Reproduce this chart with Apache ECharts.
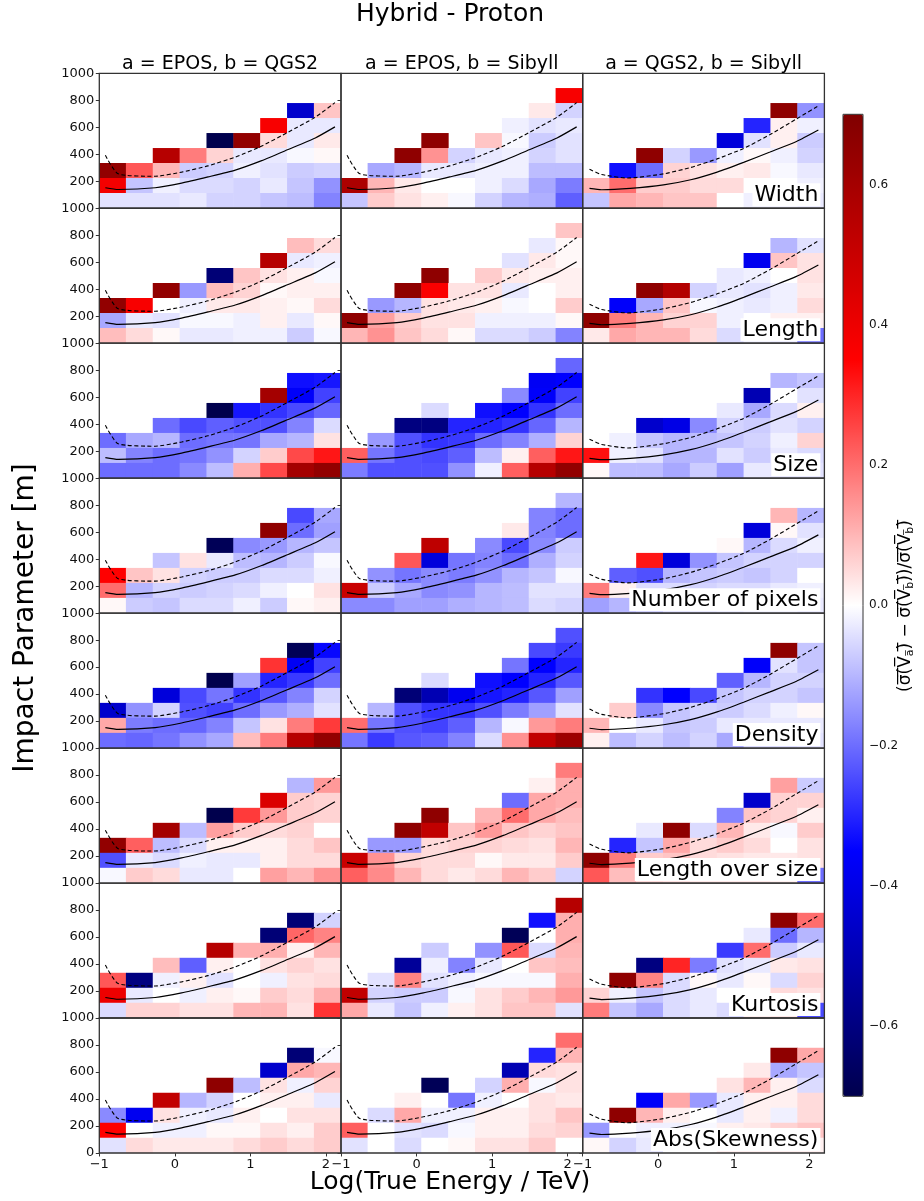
<!DOCTYPE html>
<html><head><meta charset="utf-8">
<script src="https://cdn.jsdelivr.net/npm/echarts@6/dist/echarts.min.js"></script>
<style>html,body{margin:0;padding:0;background:#fff}#c{width:924px;height:1201px}</style>
</head><body><div id="c"></div>
<script>
const n = null;
// ---- Tick labels / categories ----
const xCategories = ['0','1','2','3','4','5','6','7','8'];
const yCategories = ['0','1','2','3','4','5','6','7','8'];
const xTickValues = [-1, 0, 1, 2];
const colorbarTicks = [-0.6, -0.4, -0.2, 0.0, 0.2, 0.4, 0.6];
const columnTitles = ['a = EPOS, b = QGS2', 'a = EPOS, b = Sibyll', 'a = QGS2, b = Sibyll'];
const rowNames = ['Width','Length','Size','Number of pixels','Density','Length over size','Kurtosis','Abs(Skewness)'];

// ---- Reference curves (log10 E, impact [m]) ----
const eposSolid = [[-0.92,152],[-0.75,139],[-0.26,152],[0.09,186],[0.44,232],[0.80,283],[1.15,353],[1.50,435],[1.86,521],[2.12,603]];
const eposDashed = [[-0.92,392],[-0.75,255],[-0.26,237],[0.09,268],[0.44,314],[0.80,379],[1.15,461],[1.50,564],[1.86,675],[2.12,783]];
const qgs2Solid = [[-0.91,147],[-0.75,137],[-0.37,147],[0.07,173],[0.43,211],[0.78,268],[1.13,340],[1.48,417],[1.83,495],[2.12,580]];
const qgs2Dashed = [[-0.91,289],[-0.75,250],[-0.40,224],[0.07,255],[0.43,302],[0.78,366],[1.13,443],[1.48,546],[1.83,662],[2.12,758]];

// ---- Heatmap values: rows top (800-1000 m) to bottom (0-111 m), 9 energy bins each ----
// Column 1: a = EPOS, b = QGS2
const widthEposQgs2 = [
 [n,n,n,n,n,n,n,n,n],
 [n,n,n,n,n,n,n,n,n],
 [n,n,n,n,n,n,n,-0.45,0.08],
 [n,n,n,n,n,n,0.37,-0.03,-0.03],
 [n,n,n,n,-0.7,0.65,0.05,-0.03,0.03],
 [n,n,0.55,0.18,0.06,-0.03,-0.03,-0.01,0.01],
 [0.65,0.23,0.1,-0.07,-0.06,-0.02,-0.04,-0.07,-0.06],
 [0.38,-0.08,-0.02,-0.05,-0.05,-0.06,-0.03,-0.08,-0.15],
 [-0.04,-0.04,-0.04,-0.03,-0.06,-0.06,-0.08,-0.09,-0.17]];
const lengthEposQgs2 = [
 [n,n,n,n,n,n,n,n,n],
 [n,n,n,n,n,n,n,n,n],
 [n,n,n,n,n,n,n,0.09,0.05],
 [n,n,n,n,n,n,0.55,-0.03,-0.02],
 [n,n,n,n,-0.62,0.08,0.04,0.02,-0.01],
 [n,n,0.65,-0.14,0.09,0.06,0.01,0.02,0.02],
 [0.65,0.37,0.0,-0.02,0.03,0.03,0.02,0.01,0.05],
 [-0.12,-0.03,-0.04,-0.01,-0.01,-0.02,0.02,-0.03,0.01],
 [0.09,0.05,0.01,-0.03,-0.03,-0.02,-0.02,-0.07,-0.01]];
const sizeEposQgs2 = [
 [n,n,n,n,n,n,n,n,n],
 [n,n,n,n,n,n,n,n,n],
 [n,n,n,n,n,n,n,-0.33,-0.32],
 [n,n,n,n,n,n,0.6,-0.36,-0.26],
 [n,n,n,n,-0.7,-0.32,-0.28,-0.25,-0.21],
 [n,n,-0.2,-0.25,-0.22,-0.24,-0.24,-0.17,-0.05],
 [-0.2,-0.12,-0.1,-0.2,-0.19,-0.19,-0.12,-0.1,0.04],
 [-0.09,-0.17,-0.2,-0.19,-0.15,-0.06,0.07,0.25,0.32],
 [-0.2,-0.2,-0.2,-0.16,-0.09,0.11,0.25,0.6,0.65]];
const pixelsEposQgs2 = [
 [n,n,n,n,n,n,n,n,n],
 [n,n,n,n,n,n,n,n,n],
 [n,n,n,n,n,n,n,-0.25,-0.12],
 [n,n,n,n,n,n,0.66,-0.2,-0.13],
 [n,n,n,n,-0.68,-0.16,-0.14,-0.1,-0.08],
 [n,n,-0.08,0.04,-0.03,-0.09,-0.1,-0.07,-0.01],
 [0.35,0.08,0.04,-0.06,-0.07,-0.07,-0.05,-0.05,-0.02],
 [0.2,-0.1,-0.06,-0.07,-0.06,-0.05,-0.02,0.0,0.04],
 [0.01,-0.07,-0.08,-0.05,-0.05,-0.02,-0.07,0.01,0.02]];
const densityEposQgs2 = [
 [n,n,n,n,n,n,n,n,n],
 [n,n,n,n,n,n,n,n,n],
 [n,n,n,n,n,n,n,-0.68,-0.34],
 [n,n,n,n,n,n,0.28,-0.37,-0.26],
 [n,n,n,n,-0.7,-0.13,-0.3,-0.27,-0.2],
 [n,n,-0.42,-0.25,-0.19,-0.28,-0.23,-0.17,-0.06],
 [-0.45,-0.15,-0.06,-0.24,-0.26,-0.2,-0.14,-0.11,-0.04],
 [0.12,-0.18,-0.2,-0.21,-0.17,-0.08,0.04,0.18,0.27],
 [-0.2,-0.21,-0.19,-0.15,-0.12,0.09,0.18,0.55,0.65]];
const losEposQgs2 = [
 [n,n,n,n,n,n,n,n,n],
 [n,n,n,n,n,n,n,n,n],
 [n,n,n,n,n,n,n,-0.1,0.14],
 [n,n,n,n,n,n,0.45,0.07,0.06],
 [n,n,n,n,-0.7,0.27,0.14,0.07,0.06],
 [n,n,0.6,-0.09,0.13,0.07,0.05,0.06,0.0],
 [0.65,0.22,-0.09,-0.05,0.02,0.02,0.02,0.05,0.08],
 [-0.24,-0.03,-0.05,-0.02,-0.03,-0.03,0.02,0.05,0.05],
 [-0.01,0.07,0.05,-0.03,-0.03,0.0,0.13,0.1,0.15]];
const kurtEposQgs2 = [
 [n,n,n,n,n,n,n,n,n],
 [n,n,n,n,n,n,n,n,n],
 [n,n,n,n,n,n,n,-0.62,-0.06],
 [n,n,n,n,n,n,-0.62,0.21,0.17],
 [n,n,n,n,0.55,0.11,0.11,0.02,0.1],
 [n,n,0.09,-0.22,0.02,0.0,0.04,0.06,0.04],
 [0.23,-0.6,-0.02,0.02,-0.04,0.0,-0.02,0.04,0.05],
 [0.4,-0.03,0.0,-0.02,0.02,0.01,0.07,0.05,0.11],
 [-0.05,0.06,0.06,0.04,0.04,0.1,0.1,0.04,0.28]];
const skewEposQgs2 = [
 [n,n,n,n,n,n,n,n,n],
 [n,n,n,n,n,n,n,n,n],
 [n,n,n,n,n,n,n,-0.62,-0.01],
 [n,n,n,n,n,n,-0.45,0.12,0.1],
 [n,n,n,n,0.66,-0.09,0.04,-0.02,0.06],
 [n,n,0.52,-0.1,-0.06,0.0,0.02,0.02,-0.03],
 [-0.16,-0.38,0.04,-0.02,-0.03,0.02,0.0,0.04,0.04],
 [0.35,0.0,-0.02,-0.02,0.01,0.01,0.04,0.02,0.07],
 [-0.04,0.05,0.03,0.03,0.03,0.05,0.07,0.05,0.07]];

// Column 2: a = EPOS, b = Sibyll
const widthEposSibyll = [
 [n,n,n,n,n,n,n,n,n],
 [n,n,n,n,n,n,n,n,0.37],
 [n,n,n,n,n,n,n,0.03,-0.06],
 [n,n,n,n,n,n,-0.02,-0.04,-0.03],
 [n,n,n,0.66,n,0.08,-0.01,-0.07,-0.04],
 [n,n,0.66,0.15,-0.06,-0.03,-0.02,-0.06,-0.04],
 [n,-0.12,-0.1,-0.03,-0.03,-0.02,-0.02,-0.09,-0.09],
 [0.58,0.1,0.03,0.0,0.0,-0.02,-0.05,-0.12,-0.18],
 [-0.08,0.07,0.04,0.02,-0.01,-0.06,-0.1,-0.11,-0.22]];
const lengthEposSibyll = [
 [n,n,n,n,n,n,n,n,n],
 [n,n,n,n,n,n,n,n,0.08],
 [n,n,n,n,n,n,n,-0.03,0.01],
 [n,n,n,n,n,n,-0.04,0.03,0.01],
 [n,n,n,0.66,n,0.07,0.03,0.02,0.02],
 [n,n,0.66,0.36,0.04,0.04,-0.03,0.0,0.02],
 [n,-0.14,-0.1,0.04,0.03,0.02,-0.01,0.0,0.07],
 [0.66,0.13,0.07,0.04,0.04,-0.02,-0.02,-0.02,0.01],
 [0.1,0.15,0.08,0.05,0.01,-0.05,-0.05,-0.07,-0.17]];
const sizeEposSibyll = [
 [n,n,n,n,n,n,n,n,n],
 [n,n,n,n,n,n,n,n,-0.21],
 [n,n,n,n,n,n,n,-0.37,-0.35],
 [n,n,n,n,n,n,-0.16,-0.36,-0.26],
 [n,n,n,-0.05,n,-0.33,-0.35,-0.28,-0.2],
 [n,n,-0.6,-0.6,-0.3,-0.3,-0.28,-0.21,-0.1],
 [n,-0.14,-0.24,-0.28,-0.27,-0.2,-0.17,-0.11,0.06],
 [0.22,-0.19,-0.24,-0.25,-0.22,-0.09,0.02,0.22,0.32],
 [-0.18,-0.24,-0.24,-0.24,-0.15,-0.02,0.22,0.55,0.65]];
const pixelsEposSibyll = [
 [n,n,n,n,n,n,n,n,n],
 [n,n,n,n,n,n,n,n,-0.1],
 [n,n,n,n,n,n,n,-0.17,-0.2],
 [n,n,n,n,n,n,0.03,-0.17,-0.2],
 [n,n,n,0.53,n,-0.16,-0.25,-0.16,-0.07],
 [n,n,0.23,-0.42,-0.19,-0.17,-0.2,-0.11,-0.06],
 [n,-0.15,-0.19,-0.16,-0.18,-0.15,-0.1,-0.08,-0.01],
 [0.5,-0.07,-0.12,-0.16,-0.15,-0.1,-0.09,-0.04,-0.04],
 [-0.16,-0.16,-0.13,-0.13,-0.11,-0.1,-0.09,-0.05,-0.06]];
const densityEposSibyll = [
 [n,n,n,n,n,n,n,n,n],
 [n,n,n,n,n,n,n,n,-0.24],
 [n,n,n,n,n,n,n,-0.25,-0.27],
 [n,n,n,n,n,n,-0.19,-0.35,-0.3],
 [n,n,n,-0.05,n,-0.33,-0.35,-0.3,-0.23],
 [n,n,-0.62,-0.5,-0.38,-0.32,-0.3,-0.23,-0.13],
 [n,-0.1,-0.24,-0.28,-0.28,-0.24,-0.18,-0.13,-0.04],
 [0.2,-0.19,-0.24,-0.26,-0.22,-0.1,-0.01,0.14,0.18],
 [-0.19,-0.27,-0.23,-0.22,-0.17,-0.05,0.15,0.52,0.62]];
const losEposSibyll = [
 [n,n,n,n,n,n,n,n,n],
 [n,n,n,n,n,n,n,n,0.18],
 [n,n,n,n,n,n,n,0.02,0.11],
 [n,n,n,n,n,n,-0.2,0.12,0.11],
 [n,n,n,0.66,n,0.1,0.2,0.12,0.09],
 [n,n,0.66,0.52,0.08,0.14,0.08,0.06,0.08],
 [n,-0.14,-0.14,0.05,0.06,0.06,0.05,0.04,0.1],
 [0.5,0.15,0.06,0.05,0.05,0.01,0.03,0.03,0.07],
 [0.22,0.16,0.1,0.05,0.03,0.05,0.1,0.07,-0.06]];
const kurtEposSibyll = [
 [n,n,n,n,n,n,n,n,n],
 [n,n,n,n,n,n,n,n,0.55],
 [n,n,n,n,n,n,n,-0.33,0.11],
 [n,n,n,n,n,n,-0.68,0.0,0.11],
 [n,n,n,-0.07,n,-0.15,0.23,-0.05,0.1],
 [n,n,-0.55,-0.02,-0.17,-0.03,0.0,0.08,0.09],
 [n,-0.04,0.17,-0.04,-0.02,-0.01,-0.01,-0.01,0.11],
 [0.52,-0.06,-0.07,-0.07,-0.01,0.04,0.07,0.1,0.14],
 [0.12,-0.03,-0.08,-0.02,0.02,0.04,0.08,0.08,-0.04]];
const skewEposSibyll = [
 [n,n,n,n,n,n,n,n,n],
 [n,n,n,n,n,n,n,n,0.2],
 [n,n,n,n,n,n,n,-0.3,0.1],
 [n,n,n,n,n,n,-0.5,0.05,0.04],
 [n,n,n,-0.68,n,-0.06,0.11,-0.01,0.04],
 [n,n,0.02,0.0,-0.19,-0.02,0.0,0.04,0.03],
 [n,-0.05,0.12,-0.02,-0.02,0.02,0.02,0.04,0.08],
 [0.22,0.0,-0.04,-0.05,-0.01,0.02,0.02,0.05,0.06],
 [-0.04,0.0,-0.05,0.0,0.01,0.04,0.04,0.07,0.0]];

// Column 3: a = QGS2, b = Sibyll
const widthQgs2Sibyll = [
 [n,n,n,n,n,n,n,n,n],
 [n,n,n,n,n,n,n,n,n],
 [n,n,n,n,n,n,n,0.66,-0.15],
 [n,n,n,n,n,n,-0.3,0.02,-0.02],
 [n,n,n,n,n,-0.42,-0.04,0.02,-0.07],
 [n,n,0.66,-0.06,-0.14,-0.02,0.01,-0.02,-0.06],
 [n,-0.33,-0.2,0.06,0.04,0.02,0.03,-0.01,-0.03],
 [0.1,0.2,0.07,0.07,0.05,0.05,0.0,0.0,-0.02],
 [-0.08,0.12,0.1,0.08,0.08,0.0,-0.02,-0.02,-0.03]];
const lengthQgs2Sibyll = [
 [n,n,n,n,n,n,n,n,n],
 [n,n,n,n,n,n,n,n,n],
 [n,n,n,n,n,n,n,-0.1,-0.04],
 [n,n,n,n,n,n,-0.38,0.08,0.04],
 [n,n,n,n,n,-0.03,-0.02,0.0,0.04],
 [n,n,0.66,0.56,-0.06,-0.03,-0.04,-0.02,0.03],
 [n,-0.36,-0.12,0.08,-0.01,-0.02,-0.03,-0.02,0.05],
 [0.66,0.18,0.1,0.06,0.06,-0.02,0.0,0.02,0.02],
 [0.03,0.12,0.1,0.1,0.05,-0.05,-0.02,-0.03,-0.2]];
const sizeQgs2Sibyll = [
 [n,n,n,n,n,n,n,n,n],
 [n,n,n,n,n,n,n,n,n],
 [n,n,n,n,n,n,n,-0.1,-0.08],
 [n,n,n,n,n,n,-0.5,0.0,-0.04],
 [n,n,n,n,n,-0.03,-0.12,-0.05,0.02],
 [n,n,-0.45,-0.4,-0.16,-0.06,-0.07,-0.04,-0.06],
 [n,-0.02,-0.08,-0.1,-0.09,-0.08,-0.06,-0.02,0.06],
 [0.33,-0.02,-0.04,-0.1,-0.1,-0.04,-0.07,-0.03,-0.05],
 [0.01,-0.09,-0.09,-0.12,-0.07,-0.13,-0.03,-0.04,-0.04]];
const pixelsQgs2Sibyll = [
 [n,n,n,n,n,n,n,n,n],
 [n,n,n,n,n,n,n,n,n],
 [n,n,n,n,n,n,n,0.1,-0.1],
 [n,n,n,n,n,n,-0.42,0.01,-0.04],
 [n,n,n,n,n,0.01,-0.1,-0.05,-0.02],
 [n,n,0.32,-0.42,-0.15,-0.08,-0.06,-0.06,-0.06],
 [n,-0.22,-0.24,-0.1,-0.08,-0.07,-0.08,-0.06,0.0],
 [0.18,0.02,-0.05,-0.05,-0.06,-0.05,-0.05,-0.03,-0.02],
 [-0.13,-0.1,-0.08,-0.05,-0.04,-0.03,-0.02,-0.02,-0.03]];
const densityQgs2Sibyll = [
 [n,n,n,n,n,n,n,n,n],
 [n,n,n,n,n,n,n,n,n],
 [n,n,n,n,n,n,n,0.66,-0.08],
 [n,n,n,n,n,n,-0.36,-0.04,-0.08],
 [n,n,n,n,n,-0.22,-0.1,-0.06,-0.06],
 [n,n,-0.28,-0.35,-0.25,-0.08,-0.06,-0.06,-0.08],
 [n,0.07,-0.16,-0.08,-0.06,-0.07,-0.05,-0.02,0.01],
 [0.1,0.0,-0.03,-0.08,-0.07,-0.03,-0.03,-0.03,-0.03],
 [0.02,-0.09,-0.06,-0.09,-0.06,-0.12,-0.05,-0.05,-0.04]];
const losQgs2Sibyll = [
 [n,n,n,n,n,n,n,n,n],
 [n,n,n,n,n,n,n,n,n],
 [n,n,n,n,n,n,n,0.13,-0.07],
 [n,n,n,n,n,n,-0.45,0.06,0.06],
 [n,n,n,n,n,-0.17,0.08,0.06,0.02],
 [n,n,-0.03,0.66,-0.05,0.1,0.03,-0.01,0.07],
 [n,-0.3,-0.08,0.12,0.05,0.07,0.05,0.0,0.04],
 [0.66,0.18,0.07,0.08,0.05,0.04,0.03,0.03,0.04],
 [0.23,0.09,0.05,0.04,0.03,0.03,0.03,0.02,-0.2]];
const kurtQgs2Sibyll = [
 [n,n,n,n,n,n,n,n,n],
 [n,n,n,n,n,n,n,n,n],
 [n,n,n,n,n,n,n,0.66,0.2],
 [n,n,n,n,n,n,-0.03,-0.2,-0.1],
 [n,n,n,n,n,-0.27,0.2,-0.07,-0.03],
 [n,n,-0.6,0.3,-0.18,-0.04,-0.03,0.03,0.04],
 [n,0.66,0.17,-0.05,0.01,-0.03,0.01,-0.05,0.06],
 [0.06,-0.02,-0.08,-0.05,-0.03,0.0,0.0,0.05,0.04],
 [0.18,-0.08,-0.12,-0.05,-0.03,-0.05,0.02,0.03,-0.25]];
const skewQgs2Sibyll = [
 [n,n,n,n,n,n,n,n,n],
 [n,n,n,n,n,n,n,n,n],
 [n,n,n,n,n,n,n,0.66,0.12],
 [n,n,n,n,n,n,0.03,-0.12,-0.08],
 [n,n,n,n,n,0.04,0.1,0.02,-0.05],
 [n,n,-0.36,0.12,-0.14,-0.03,0.02,0.02,0.05],
 [n,0.66,0.1,0.02,0.0,-0.03,0.02,-0.02,0.05],
 [-0.14,0.0,-0.02,-0.02,-0.01,0.02,0.03,0.06,0.08],
 [0.01,-0.06,-0.03,0.0,0.0,0.02,0.02,0.02,0.02]];

const panelData = [
 [widthEposQgs2, widthEposSibyll, widthQgs2Sibyll],
 [lengthEposQgs2, lengthEposSibyll, lengthQgs2Sibyll],
 [sizeEposQgs2, sizeEposSibyll, sizeQgs2Sibyll],
 [pixelsEposQgs2, pixelsEposSibyll, pixelsQgs2Sibyll],
 [densityEposQgs2, densityEposSibyll, densityQgs2Sibyll],
 [losEposQgs2, losEposSibyll, losQgs2Sibyll],
 [kurtEposQgs2, kurtEposSibyll, kurtQgs2Sibyll],
 [skewEposQgs2, skewEposSibyll, skewQgs2Sibyll]];
const solidCurves = [eposSolid, eposSolid, qgs2Solid];
const dashedCurves = [eposDashed, eposDashed, qgs2Dashed];

// ---- Layout ----
const FONT = 'DejaVu Sans';
const colLeft = [99.3, 341, 582.7];
const panelW = 241.7;
const top0 = 73.3;
const panelH = 134.96;
const seismic = ['#00004d', '#0000ff', '#ffffff', '#ff0000', '#800000'];
const minus = v => (v < 0 ? '\u2212' : '') + Math.abs(v);

const grid = [], xAxis = [], yAxis = [], series = [], heatIdx = [], texts = [];
for (let r = 0; r < 8; r++) {
  for (let c = 0; c < 3; c++) {
    const g = r * 3 + c;
    grid.push({left: colLeft[c], top: top0 + r * panelH, width: panelW, height: panelH,
      show: true, borderColor: '#333', borderWidth: 1.3, backgroundColor: 'rgba(0,0,0,0)', z: 10});
    xAxis.push({type: 'category', gridIndex: g, position: 'top', data: xCategories, show: false});
    xAxis.push({type: 'value', gridIndex: g, position: 'bottom', min: -1, max: 2.2, interval: 1,
      axisLine: {show: false}, splitLine: {show: false},
      axisTick: {show: r === 7, length: 3.5, customValues: xTickValues, lineStyle: {color: '#333'}},
      axisLabel: {show: r === 7, customValues: xTickValues, margin: 5, fontSize: 13, color: '#111', fontFamily: FONT,
        formatter: v => Math.abs(v - Math.round(v)) > 1e-6 ? '' : minus(v)}});
    yAxis.push({type: 'category', gridIndex: g, position: 'right', data: yCategories, show: false});
    yAxis.push({type: 'value', gridIndex: g, position: 'left', min: 0, max: 1000, interval: 200,
      axisLine: {show: false}, splitLine: {show: false},
      axisTick: {show: true, length: 3.5, lineStyle: {color: '#333'}},
      axisLabel: {show: c === 0, margin: 5, fontSize: 13, color: '#111', fontFamily: FONT,
        showMinLabel: true, showMaxLabel: true,
        formatter: v => (v === 0 && r < 7) ? '' : String(v)}});
    const arr = panelData[r][c];
    const data = [];
    for (let i = 0; i < 9; i++) for (let j = 0; j < 9; j++) {
      const v = arr[i][j];
      if (v !== null) data.push([j, 8 - i, v]);
    }
    heatIdx.push(series.length);
    series.push({type: 'heatmap', xAxisIndex: 2 * g, yAxisIndex: 2 * g, data: data,
      itemStyle: {borderWidth: 0}, emphasis: {disabled: true}, silent: true, progressive: 0});
    series.push({type: 'line', xAxisIndex: 2 * g + 1, yAxisIndex: 2 * g + 1, data: solidCurves[c],
      symbol: 'none', smooth: 0.2, silent: true, z: 5, lineStyle: {color: '#000', width: 1.2}});
    series.push({type: 'line', xAxisIndex: 2 * g + 1, yAxisIndex: 2 * g + 1, data: dashedCurves[c],
      symbol: 'none', smooth: 0.2, silent: true, z: 5, lineStyle: {color: '#000', width: 1.1, type: [4, 2.5]}});
  }
  texts.push({type: 'text', z: 100, x: colLeft[2] + panelW - 4, y: top0 + (r + 1) * panelH - 2,
    style: {text: rowNames[r], font: '22px "DejaVu Sans"', fill: '#000', align: 'right', verticalAlign: 'bottom',
      backgroundColor: '#fff', padding: [1, 2, 0, 2], lineHeight: 22}});
}
// colorbar axis
const cbTop = 114.3, cbH = 982, cbLeft = 843, cbW = 20;
grid.push({left: cbLeft, top: cbTop, width: cbW, height: cbH, show: false});
xAxis.push({type: 'value', gridIndex: 24, min: 0, max: 1, show: false});
yAxis.push({type: 'value', gridIndex: 24, position: 'right', min: -0.7, max: 0.7,
  axisLine: {show: false}, splitLine: {show: false},
  axisTick: {show: true, length: 4, customValues: colorbarTicks, lineStyle: {color: '#333'}},
  axisLabel: {customValues: colorbarTicks, margin: 6, fontSize: 12, color: '#111', fontFamily: FONT,
    formatter: v => (v < -1e-9 ? '\u2212' : '') + Math.abs(v).toFixed(1)}});

for (let c = 0; c < 3; c++) {
  texts.push({type: 'text', z: 100, x: colLeft[c] + panelW / 2, y: 64.5,
    style: {text: columnTitles[c], font: '19px "DejaVu Sans"', fill: '#000', align: 'center', verticalAlign: 'middle'}});
}
texts.push({type: 'text', z: 100, x: 450, y: 14, style: {text: 'Hybrid - Proton', font: '25px "DejaVu Sans"', fill: '#000', align: 'center', verticalAlign: 'middle'}});
texts.push({type: 'text', z: 100, x: 450, y: 1182, style: {text: 'Log(True Energy / TeV)', font: '25px "DejaVu Sans"', fill: '#000', align: 'center', verticalAlign: 'middle'}});
texts.push({type: 'text', z: 100, x: 26, y: 618, rotation: Math.PI / 2, style: {text: 'Impact Parameter [m]', font: '28px "DejaVu Sans"', fill: '#000', align: 'center', verticalAlign: 'middle'}});
texts.push({type: 'rect', z: 100, shape: {x: cbLeft, y: cbTop, width: cbW, height: cbH}, style: {fill: 'none', stroke: '#333', lineWidth: 1}});
texts.push({type: 'text', z: 100, x: 906, y: 606, rotation: Math.PI / 2, style: {
  text: '{n|(σ\u0305(\u0305V\u0305}{s|a\u0305}{n|)\u0305 \u2212 σ\u0305(\u0305V\u0305}{s|b\u0305}{n|)\u0305)/σ\u0305(\u0305V\u0305}{s|b\u0305}{n|)\u0305}',
  align: 'center', verticalAlign: 'middle', fill: '#000',
  rich: {n: {fontSize: 17, fontFamily: FONT, lineHeight: 24, verticalAlign: 'middle'},
         s: {fontSize: 11, fontFamily: FONT, lineHeight: 24, verticalAlign: 'bottom', padding: [0, 0, 2, 0]}}}});

const chart = echarts.init(document.getElementById('c'), null, {renderer: 'canvas'});
chart.setOption({
  animation: false,
  backgroundColor: '#fff',
  grid: grid, xAxis: xAxis, yAxis: yAxis, series: series,
  visualMap: {type: 'continuous', min: -0.7, max: 0.7, seriesIndex: heatIdx, dimension: 2,
    inRange: {color: seismic}, show: true, calculable: false, left: cbLeft, top: cbTop,
    itemWidth: cbW, itemHeight: cbH, padding: 0, text: null, hoverLink: false},
  graphic: {elements: texts}
});
</script></body></html>
